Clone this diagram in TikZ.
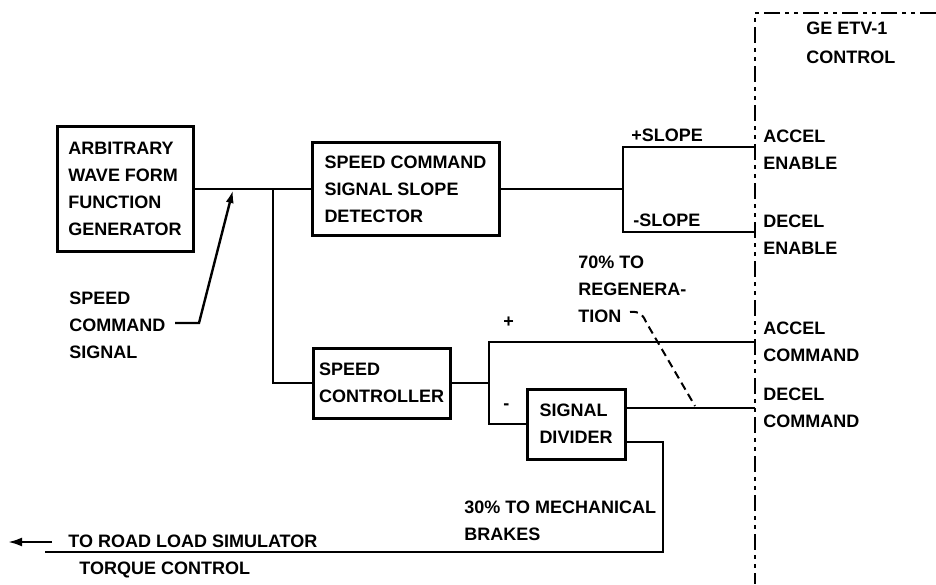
\documentclass[tikz,border=0pt]{standalone}
\usepackage{fontspec}
\setmainfont{Liberation Sans}
\usetikzlibrary{arrows.meta}
\begin{document}
\begin{tikzpicture}[x=1pt,y=-1pt, line width=2.8pt,
  lbl/.style={inner sep=0pt, anchor=west, align=left, font=\bfseries\fontsize{18}{27}\selectfont},
  blk/.style={draw, line width=3pt, inner sep=0pt, align=left, font=\bfseries\fontsize{18}{27}\selectfont},
  leader/.style={line width=2pt, dash pattern=on 8pt off 5pt},
  bound/.style={line width=2.6pt, dash pattern=on 16pt off 5pt on 4pt off 5pt on 4pt off 5pt}]
\useasboundingbox (0,0) rectangle (936,584);

% blocks
\node[blk, minimum width=136pt, minimum height=125pt] (arb) at (125,189) {ARBITRARY\\WAVE FORM\\FUNCTION\\GENERATOR};
\node[blk, minimum width=187pt, minimum height=93pt] (sld) at (405.5,189) {SPEED COMMAND\\SIGNAL SLOPE\\DETECTOR};
\node[blk, minimum width=137pt, minimum height=70pt] (ctl) at (381.5,383) {SPEED\\CONTROLLER};
\node[blk, minimum width=98pt, minimum height=70pt] (div) at (576,424) {SIGNAL\\DIVIDER};

% coordinates
\coordinate (j1) at (273,189);
\coordinate (tip) at (233,190);
\coordinate (k1) at (199,323);
\coordinate (k0) at (175,323);
\coordinate (sp) at (623,189);
\coordinate (ae) at (755,147);
\coordinate (de) at (755,232);
\coordinate (cj) at (489,383);
\coordinate (ac) at (755,342);
\coordinate (dc) at (755,408);
\coordinate (bk) at (663,442);
\coordinate (bl) at (45,552);
\coordinate (ar0) at (52,542);
\coordinate (ar1) at (8,542);
\coordinate (ld0) at (630,312);
\coordinate (ld1) at (646,322);
\coordinate (ld2) at (695,406);
\coordinate (b0) at (936,13);
\coordinate (b1) at (755,13);
\coordinate (b2) at (755,584);

% connectors
\draw (arb.east) -- (sld.west);
\draw (j1) |- (ctl.west);
\draw[line width=2.4pt, -{Latex[length=13pt,width=8pt]}] (k0) -- (k1) -- (tip);
\draw (sld.east) -- (sp);
\draw (ae) -| (sp) |- (de);
\draw (ctl.east) -- (cj);
\draw (ac) -| (cj) |- (div.west);
\draw (div.east |- dc) -- (dc);
\draw (div.east |- bk) -- (bk) |- (bl);
\draw[line width=2.4pt, -{Latex[length=14pt,width=9pt]}] (ar0) -- (ar1);
\draw[leader] (ld0) .. controls (640,311) and (643,315) .. (ld1) -- (ld2);
\draw[bound] (b0) -- (b1) -- (b2);

% labels
\node[lbl] (ps) at (630,135) {+SLOPE};
\node[lbl] (ms) at (632,220) {-SLOPE};
\node[lbl] (ge) at (805,42.5) {GE ETV-1\\[2pt]CONTROL};
\node[lbl] (aen) at (762,150) {ACCEL\\ENABLE};
\node[lbl] (den) at (762,234.5) {DECEL\\ENABLE};
\node[lbl] (acm) at (762,341.5) {ACCEL\\COMMAND};
\node[lbl] (dcm) at (762,407.5) {DECEL\\COMMAND};
\node[lbl] (plus) at (502,322) {+};
\node[lbl] (minus) at (502,407) {-};
\node[lbl] (regen) at (577,289) {70\% TO\\REGENERA-\\TION};
\node[lbl] (scs) at (68,325) {SPEED\\COMMAND\\SIGNAL};
\node[lbl] (mech) at (463,521) {30\% TO MECHANICAL\\BRAKES};
\node[lbl] (road) at (67,541) {TO ROAD LOAD SIMULATOR};
\node[lbl] (torq) at (78,570) {TORQUE CONTROL};
\end{tikzpicture}
\end{document}
